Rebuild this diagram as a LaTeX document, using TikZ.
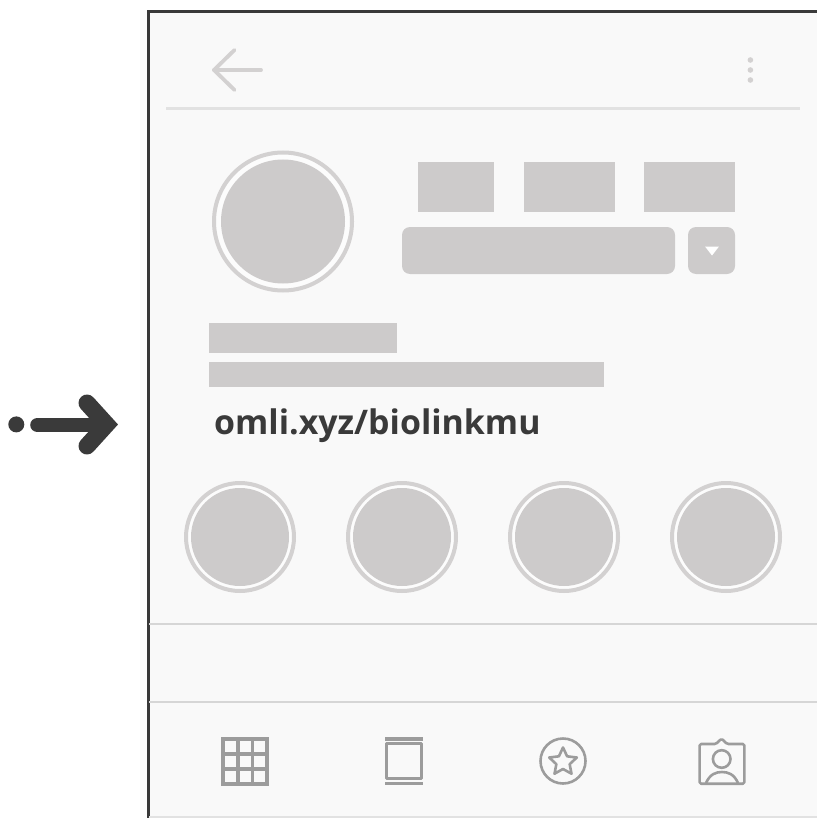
\documentclass[tikz,border=0pt]{standalone}
\usepackage{fontspec}
\setmainfont{Open Sans}
\definecolor{blockgray}{HTML}{CDCBCB}
\definecolor{ringgray}{HTML}{D3D1D1}
\definecolor{ringgap}{HTML}{FCFCFC}
\definecolor{screenbg}{HTML}{F9F9F9}
\definecolor{rulegray}{HTML}{E2E2E2}
\definecolor{sepgray}{HTML}{D6D6D6}
\definecolor{icongray}{HTML}{9C9C9C}
\definecolor{darkink}{HTML}{3A3A3A}
\tikzset{
  block/.style={fill=blockgray,draw=none},
  ring/.style={circle,draw=ringgray,line width=4pt,fill=ringgap,inner sep=0pt,outer sep=0pt,minimum size=#1},
  disc/.style={circle,fill=blockgray,inner sep=0pt,outer sep=0pt,minimum size=#1},
  icon/.style={draw=icongray,line width=3.8pt},
  icont/.style={draw=icongray,line width=2.6pt,line join=round},
}
\begin{document}
\begin{tikzpicture}[x=1pt,y=-1pt]
\useasboundingbox (0,0) rectangle (817,818);
\fill[white] (0,0) rectangle (817,818);
% screen
\fill[screenbg] (148,12) rectangle (817,818);
\draw[darkink,line width=3.3pt] (148.3,818) -- (148.3,11.7) -- (817,11.7);
% top bar
\draw[draw=ringgray,line width=3.8pt,line cap=round,line join=round] (234.5,50) -- (214,70) -- (234.5,90);
\draw[draw=ringgray,line width=3.8pt,line cap=round] (214,70) -- (261,70);
\foreach \yy in {60,70,80}{\fill[ringgray] (750.4,\yy) circle (2.8);}
\draw[rulegray,line width=2.2pt] (166,108.5) -- (800,108.5);
% profile
\node[ring=138pt] (avatar) at (283,221.5) {};
\node[disc=124pt] (avatarin) at (283,221.5) {};
\fill[block] (418,162) rectangle (494,212);
\fill[block] (524,162) rectangle (615,212);
\fill[block] (644,162) rectangle (735,212);
\fill[block,rounded corners=8pt] (402,227) rectangle (675,274);
\fill[block,rounded corners=8pt] (688,227) rectangle (735,274);
\fill[white] (705,246.5) -- (719,246.5) -- (712,255.5) -- cycle;
\fill[block] (209,323) rectangle (397,353);
\fill[block] (209,362) rectangle (604,387);
\node[anchor=base west,inner sep=0pt,text=darkink,font=\fontsize{33.9pt}{40pt}\bfseries] (link) at (214,434) {omli.xyz/biolinkmu};
% stories
\foreach \n/\xx in {a/240,b/402,c/564,d/726}{
  \node[ring=108pt] (st\n) at (\xx,537) {};
  \node[disc=98pt] (sd\n) at (\xx,537) {};
}
% separators
\draw[sepgray,line width=1.6pt] (149,624) -- (817,624);
\draw[sepgray,line width=1.6pt] (149,702) -- (817,702);
\draw[rulegray,line width=2pt] (149,817) -- (817,817);
% grid icon
\draw[icon] (222.8,738.8) rectangle (267.2,783.6);
\draw[icon] (237.6,738) -- (237.6,784) (252.4,738) -- (252.4,784) (222,753.7) -- (268,753.7) (222,768.6) -- (268,768.6);
% page icon
\draw[icont,line width=3pt] (386.5,743.8) rectangle (421.5,778.5);
\draw[icont,line width=3.4pt] (385,738.8) -- (423,738.8) (385,783.4) -- (423,783.4);
% star icon
\draw[icont] (563,761) circle (22.5);
\draw[icont] (563,747.5) -- (567.1,756.3) -- (576.8,757.5) -- (569.66,764.16) -- (571.5,773.7) -- (563,769) -- (554.5,773.7) -- (556.34,764.16) -- (549.2,757.5) -- (558.9,756.3) -- cycle;
% contact icon
\draw[icont,rounded corners=1.5pt] (699.6,744) -- (716,744) -- (721.5,738.6) -- (727,744) -- (744.4,744) -- (744.4,783.7) -- (699.6,783.7) -- cycle;
\draw[icont] (721.7,759) circle (8.8);
\draw[icont] (706,783) .. controls (710,774) and (716,772) .. (722,772) .. controls (728,772) and (734,774) .. (738,783);
% pointer
\fill[darkink] (16.3,424.4) circle (8);
\draw[darkink,line width=14.6pt,line cap=round] (37.5,425) -- (100,425);
\draw[darkink,line width=17pt,line cap=round,line join=miter] (87,403) -- (106.5,424.5) -- (87,446);
\end{tikzpicture}
\end{document}
